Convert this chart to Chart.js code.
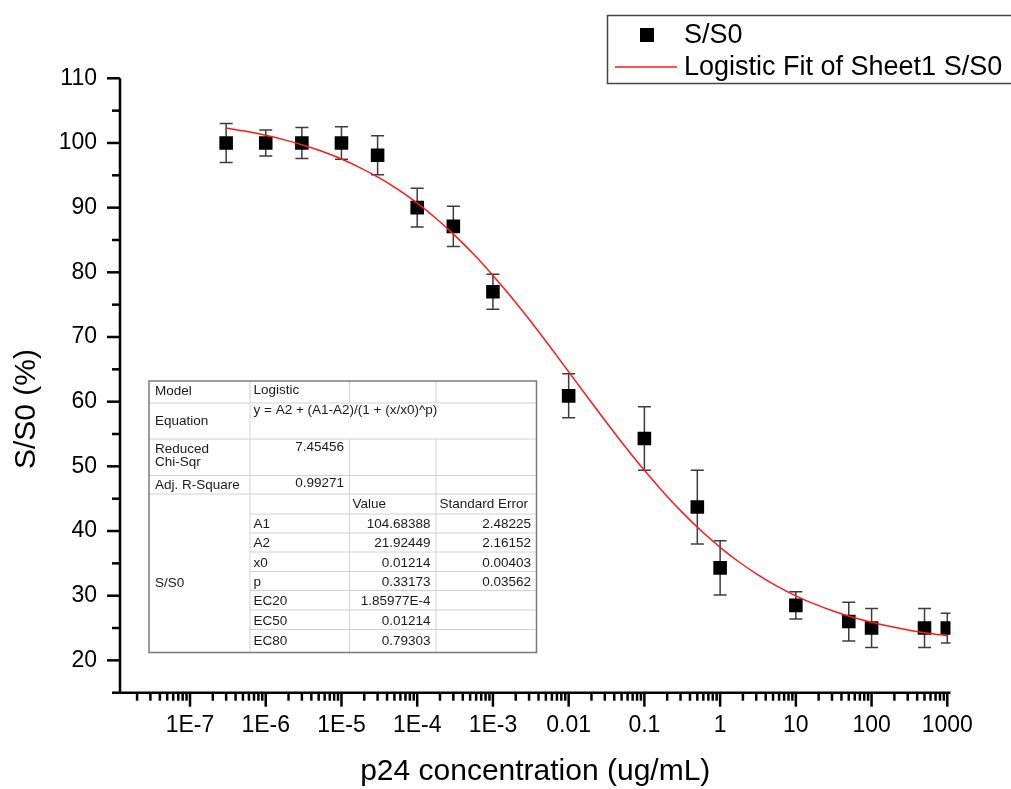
<!DOCTYPE html>
<html>
<head>
<meta charset="utf-8">
<title>S/S0 vs p24 concentration</title>
<script src="https://cdn.jsdelivr.net/npm/chart.js@4/dist/chart.umd.min.js"></script>
<style>
  html, body { margin: 0; padding: 0; background: #ffffff; }
  #c { display: block; }
</style>
</head>
<body>
<canvas id="c" width="1011" height="789"></canvas>
<script>
// Measured signal ratio (%) against p24 concentration (ug/mL), with standard deviations
const concentrations = [3e-7, 1e-6, 3e-6, 1e-5, 3e-5, 1e-4, 3e-4, 1e-3, 1e-2, 0.1, 0.5, 1, 10, 50, 100, 500, 1000];
const ratios = [100, 100, 100, 100, 98.1, 90.0, 87.1, 77.0, 60.9, 54.3, 43.7, 34.3, 28.5, 26.0, 25.0, 25.0, 25.0];
const errors = [3.0, 2.0, 2.4, 2.5, 3.0, 3.0, 3.1, 2.7, 3.4, 4.9, 5.7, 4.2, 2.1, 3.0, 3.0, 3.0, 2.3];

// Logistic fit curve, tabulated every quarter decade
const fitX = [3e-7, 5.623e-7, 1e-6, 1.778e-6, 3.162e-6, 5.623e-6, 1e-5, 1.778e-5, 3.162e-5, 5.623e-5,
  1e-4, 1.778e-4, 3.162e-4, 5.623e-4, 1e-3, 1.778e-3, 3.162e-3, 5.623e-3, 0.01, 0.01778,
  0.03162, 0.05623, 0.1, 0.1778, 0.3162, 0.5623, 1, 1.778, 3.162, 5.623,
  10, 17.78, 31.62, 56.23, 100, 177.8, 316.2, 562.3, 1000];
const fitY = [102.30, 101.77, 101.18, 100.48, 99.65, 98.67, 97.52, 96.16, 94.59, 92.77,
  90.69, 88.33, 85.68, 82.74, 79.52, 76.06, 72.39, 68.56, 64.63, 60.69,
  56.79, 53.00, 49.39, 46.01, 42.88, 40.04, 37.48, 35.21, 33.22, 31.48,
  29.98, 28.69, 27.60, 26.67, 25.88, 25.22, 24.67, 24.20, 23.82];

// Axis ticks
const xMajorTicks = [1e-7, 1e-6, 1e-5, 1e-4, 1e-3, 0.01, 0.1, 1, 10, 100, 1000];
const xTickLabels = ['1E-7', '1E-6', '1E-5', '1E-4', '1E-3', '0.01', '0.1', '1', '10', '100', '1000'];
const yMajorTicks = [20, 30, 40, 50, 60, 70, 80, 90, 100, 110];
const yMinorTicks = [15, 25, 35, 45, 55, 65, 75, 85, 95, 105];

// Fit report table
const fitInfoRows = [
  ['Model', 'Logistic'],
  ['Equation', 'y = A2 + (A1-A2)/(1 + (x/x0)^p)'],
  ['Reduced Chi-Sqr', '7.45456'],
  ['Adj. R-Square', '0.99271']
];
const paramNames = ['A1', 'A2', 'x0', 'p', 'EC20', 'EC50', 'EC80'];
const paramValues = ['104.68388', '21.92449', '0.01214', '0.33173', '1.85977E-4', '0.01214', '0.79303'];
const paramErrors = ['2.48225', '2.16152', '0.00403', '0.03562', '', '', ''];

const FONT = '"Liberation Sans", Arial, Helvetica, sans-serif';

// Error bars behind the markers, clipped to the plot area
const errorBarPlugin = {
  id: 'errorBars',
  beforeDatasetsDraw(chart) {
    const { ctx, chartArea: a, scales: { x, y } } = chart;
    ctx.save();
    ctx.beginPath();
    ctx.rect(a.left, a.top - 1, a.right - a.left, a.bottom - a.top + 1);
    ctx.clip();
    ctx.strokeStyle = '#3c3c3c';
    ctx.lineWidth = 1.5;
    const cap = 6.5;
    concentrations.forEach((c, i) => {
      const px = x.getPixelForValue(c);
      const top = y.getPixelForValue(ratios[i] + errors[i]);
      const bot = y.getPixelForValue(ratios[i] - errors[i]);
      ctx.beginPath();
      ctx.moveTo(px, top); ctx.lineTo(px, bot);
      ctx.moveTo(px - cap, top); ctx.lineTo(px + cap, top);
      ctx.moveTo(px - cap, bot); ctx.lineTo(px + cap, bot);
      ctx.stroke();
    });
    ctx.restore();
  }
};

// Left and bottom axes with outward major/minor ticks
const axesPlugin = {
  id: 'originAxes',
  afterDraw(chart) {
    const { ctx, chartArea: a, scales: { x, y } } = chart;
    ctx.save();
    ctx.strokeStyle = '#000';
    ctx.fillStyle = '#000';
    ctx.lineWidth = 2.5;
    ctx.lineCap = 'butt';

    ctx.beginPath();
    ctx.moveTo(a.left, a.top);
    ctx.lineTo(a.left, a.bottom);
    ctx.lineTo(a.right, a.bottom);
    ctx.stroke();

    // y ticks
    ctx.font = '23px ' + FONT;
    ctx.textAlign = 'right';
    ctx.textBaseline = 'middle';
    yMajorTicks.forEach(v => {
      const py = y.getPixelForValue(v);
      ctx.beginPath(); ctx.moveTo(a.left - 13, py); ctx.lineTo(a.left, py); ctx.stroke();
      ctx.fillText(String(v), a.left - 23, py);
    });
    yMinorTicks.forEach(v => {
      const py = y.getPixelForValue(v);
      ctx.beginPath(); ctx.moveTo(a.left - 8, py); ctx.lineTo(a.left, py); ctx.stroke();
    });

    // x ticks: one major per decade, minors at 2..9
    ctx.textAlign = 'center';
    const minV = x.min, maxV = x.max;
    const firstDecade = Math.floor(Math.log10(minV));
    const lastDecade = Math.ceil(Math.log10(maxV));
    for (let d = firstDecade; d <= lastDecade; d++) {
      for (let m = 2; m <= 9; m++) {
        const v = m * Math.pow(10, d);
        if (v < minV || v > maxV) continue;
        const px = x.getPixelForValue(v);
        ctx.beginPath(); ctx.moveTo(px, a.bottom); ctx.lineTo(px, a.bottom + 8); ctx.stroke();
      }
    }
    xMajorTicks.forEach((v, i) => {
      const px = x.getPixelForValue(v);
      ctx.beginPath(); ctx.moveTo(px, a.bottom); ctx.lineTo(px, a.bottom + 14); ctx.stroke();
      ctx.fillText(xTickLabels[i], px, a.bottom + 33);
    });

    // axis titles
    ctx.font = '30px ' + FONT;
    ctx.fillText('p24 concentration (ug/mL)', (a.left + a.right) / 2, 772);
    ctx.save();
    ctx.translate(27, 409);
    ctx.rotate(-Math.PI / 2);
    ctx.fillText('S/S0 (%)', 0, 0);
    ctx.restore();
    ctx.restore();
  }
};

// Legend box in the top-right corner
const legendPlugin = {
  id: 'boxLegend',
  afterDraw(chart) {
    const { ctx } = chart;
    const pts = chart.data.datasets[1];
    const fit = chart.data.datasets[0];
    ctx.save();
    ctx.fillStyle = '#fff';
    ctx.fillRect(607, 15, 420, 68);
    ctx.strokeStyle = '#444';
    ctx.lineWidth = 1.5;
    ctx.strokeRect(607.5, 15.5, 420, 68);
    ctx.fillStyle = pts.backgroundColor;
    ctx.fillRect(640, 28, 14, 14);
    ctx.strokeStyle = fit.borderColor;
    ctx.lineWidth = 1.5;
    ctx.beginPath(); ctx.moveTo(615, 67); ctx.lineTo(677, 67); ctx.stroke();
    ctx.fillStyle = '#000';
    ctx.font = '27px ' + FONT;
    ctx.textAlign = 'left';
    ctx.textBaseline = 'middle';
    ctx.fillText(pts.label, 684, 36);
    ctx.fillText(fit.label, 684, 68);
    ctx.restore();
  }
};

// Fit report table drawn over the lower-left of the plot
const tablePlugin = {
  id: 'fitTable',
  afterDraw(chart) {
    const { ctx } = chart;
    const cols = [149, 249.5, 349, 435.5, 536.5];
    const rows = [381, 402.5, 438.5, 475, 493.5, 513.5, 532.5, 551.5, 571, 590, 609.5, 629, 652.5];
    ctx.save();
    ctx.fillStyle = '#fff';
    ctx.fillRect(cols[0], rows[0], cols[4] - cols[0], rows[12] - rows[0]);

    const hline = (y, x0, x1) => { ctx.beginPath(); ctx.moveTo(x0, y); ctx.lineTo(x1, y); ctx.stroke(); };
    const vline = (x, y0, y1) => { ctx.beginPath(); ctx.moveTo(x, y0); ctx.lineTo(x, y1); ctx.stroke(); };

    ctx.strokeStyle = '#d2d2d2';
    ctx.lineWidth = 1;
    // horizontal rules
    for (let r = 1; r <= 4; r++) hline(rows[r] + 0.5, cols[0], cols[4]);
    for (let r = 5; r <= 11; r++) hline(rows[r] + 0.5, cols[1], cols[4]);
    // vertical rules (equation row spans the value columns)
    vline(cols[1] + 0.5, rows[0], rows[12]);
    [cols[2], cols[3]].forEach(cx => {
      vline(cx + 0.5, rows[0], rows[1]);
      vline(cx + 0.5, rows[2], rows[12]);
    });
    // outer frame
    ctx.strokeStyle = '#7a7a7a';
    ctx.lineWidth = 1.5;
    ctx.strokeRect(cols[0], rows[0], cols[4] - cols[0], rows[12] - rows[0]);

    ctx.fillStyle = '#1a1a1a';
    ctx.font = '13.5px ' + FONT;
    ctx.textBaseline = 'middle';
    ctx.textAlign = 'left';
    ctx.fillText(fitInfoRows[0][0], 155, 391);
    ctx.fillText(fitInfoRows[0][1], 253.5, 390);
    ctx.fillText(fitInfoRows[1][0], 155, 421);
    ctx.fillText(fitInfoRows[1][1], 253.5, 410.5);
    const chiWords = fitInfoRows[2][0].split(' ');
    ctx.fillText(chiWords[0], 155, 449);
    ctx.fillText(chiWords[1], 155, 462.5);
    ctx.fillText(fitInfoRows[3][0], 155, 485);
    ctx.fillText('Value', 352.5, 504.5);
    ctx.fillText('Standard Error', 439.5, 504.5);
    ctx.fillText('S/S0', 155, 583.5);
    const paramY = [524, 543.5, 563, 582.5, 601.5, 621.5, 641.5];
    paramNames.forEach((n, i) => ctx.fillText(n, 253.5, paramY[i]));
    ctx.textAlign = 'right';
    ctx.fillText(fitInfoRows[2][1], 344, 447);
    ctx.fillText(fitInfoRows[3][1], 344, 483.5);
    paramValues.forEach((v, i) => ctx.fillText(v, 430.5, paramY[i]));
    paramErrors.forEach((v, i) => { if (v) ctx.fillText(v, 531, paramY[i]); });
    ctx.restore();
  }
};

new Chart(document.getElementById('c'), {
  data: {
    datasets: [
      {
        type: 'line',
        label: 'Logistic Fit of Sheet1 S/S0',
        data: fitX.map((v, i) => ({ x: v, y: fitY[i] })),
        borderColor: '#ff1a1a',
        borderWidth: 1.5,
        pointRadius: 0,
        fill: false,
        cubicInterpolationMode: 'monotone',
        order: 0
      },
      {
        type: 'scatter',
        label: 'S/S0',
        data: concentrations.map((v, i) => ({ x: v, y: ratios[i] })),
        pointStyle: 'rect',
        pointRadius: 9.6,
        pointHoverRadius: 9.6,
        backgroundColor: '#000000',
        borderWidth: 0,
        order: 1
      }
    ]
  },
  options: {
    responsive: false,
    animation: false,
    devicePixelRatio: 1,
    layout: { padding: { left: 120, right: 60.5, top: 78.3, bottom: 96.3 } },
    scales: {
      x: { type: 'logarithmic', min: 1.19e-8, max: 1102, display: false },
      y: { type: 'linear', min: 15, max: 110, display: false }
    },
    plugins: {
      legend: { display: false },
      tooltip: { enabled: false }
    }
  },
  plugins: [errorBarPlugin, axesPlugin, tablePlugin, legendPlugin]
});
</script>
</body>
</html>
